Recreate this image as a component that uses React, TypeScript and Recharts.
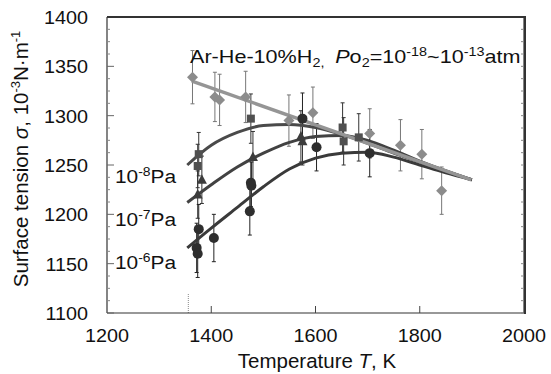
import React from 'react';
import { ComposedChart, XAxis, YAxis, Scatter, Line, ErrorBar, ReferenceLine, CartesianGrid } from 'recharts';

const FONT = '"Liberation Sans", Arial, Helvetica, sans-serif';

// Ar-He-10%H2 (gray diamonds)
const diamondT = [1364, 1407, 1416, 1466, 1549, 1595, 1704, 1763, 1804, 1842];
const diamondS = [1339, 1319, 1316, 1319, 1295, 1303, 1282, 1270, 1261, 1224];
const diamondE = [27, 25, 26, 26, 26, 26, 25, 26, 25, 24];

// 10^-8 Pa (squares)
const squareT = [1374, 1376, 1476, 1652, 1654, 1683];
const squareS = [1249, 1261, 1297, 1288, 1274, 1278];
const squareE = [22, 22, 25, 25, 24, 24];

// 10^-7 Pa (triangles)
const triT = [1374, 1382, 1480, 1572, 1575];
const triS = [1220, 1235, 1258, 1279, 1274];
const triE = [24, 24, 26, 26, 24];

// 10^-6 Pa (circles)
const circT = [1372, 1374, 1376, 1405, 1474, 1476, 1477, 1575, 1602, 1704];
const circS = [1166, 1160, 1185, 1176, 1203, 1232, 1229, 1297, 1268, 1262];
const circE = [25, 24, 25, 24, 24, 24, 24, 26, 24, 24];

// fitted curves
const fitGrayT = [1363, 1899];
const fitGrayS = [1335, 1235];
const fit8T = [1354, 1400, 1450, 1500, 1550, 1600, 1650, 1700, 1750, 1800, 1850, 1900];
const fit8S = [1250, 1270, 1283, 1290, 1291, 1288, 1281, 1272, 1262, 1253, 1244, 1235];
const fit7T = [1354, 1400, 1450, 1500, 1550, 1600, 1650, 1700, 1750, 1800, 1850, 1900];
const fit7S = [1212, 1230, 1248, 1262, 1273, 1279, 1280, 1275, 1265, 1254, 1244, 1235];
const fit6T = [1354, 1400, 1450, 1500, 1550, 1600, 1650, 1700, 1750, 1800, 1850, 1900];
const fit6S = [1166, 1186, 1207, 1228, 1246, 1257, 1262, 1263, 1258, 1250, 1242, 1235];

const xMin = 1200;
const xMax = 2000;
const yMin = 1100;
const yMax = 1400;
const xTicks = [1200, 1400, 1600, 1800, 2000];
const yTicks = Array.from({ length: 25 }, (_, i) => 1100 + i * 12.5);
const meltingT = 1356;

const pts = (t: number[], s: number[], e?: number[]) =>
  t.map((T, i) => ({ T, s: s[i], e: e ? e[i] : 0 }));

const diamonds = pts(diamondT, diamondS, diamondE);
const squares = pts(squareT, squareS, squareE);
const tris = pts(triT, triS, triE);
const circs = pts(circT, circS, circE);
const fitGray = pts(fitGrayT, fitGrayS);
const fit8 = pts(fit8T, fit8S);
const fit7 = pts(fit7T, fit7S);
const fit6 = pts(fit6T, fit6S);

// layout
const W = 551;
const H = 374;
const M_TOP = 17;
const M_RIGHT = 27;
const Y_AXIS_W = 107;
const X_AXIS_H = 61;
const PLOT_W = W - Y_AXIS_W - M_RIGHT;
const PLOT_H = H - M_TOP - X_AXIS_H;

const AXIS = '#333';
const LEFT_MARGIN = 19;
const BOTTOM_MARGIN = 16;

const LeftTick = (props: any) => {
  const { x, y, payload } = props;
  const v = payload.value;
  const major = Math.abs(v % 50) < 1e-6;
  const ax = x + LEFT_MARGIN;
  return (
    <g>
      <path d={`M${ax},${y}H${ax + (major ? 7 : 3)}`} stroke={major ? '#666' : '#888'} strokeWidth={1} fill="none" />
      <path d={`M${ax + PLOT_W - 3},${y}H${ax + PLOT_W}`} stroke="#888" strokeWidth={1} fill="none" />
      {major && (
        <text
          transform={`translate(${x},${y + 7}) scale(1.1,1)`}
          textAnchor="end"
          fontSize={18}
          fontFamily={FONT}
          fill="#111"
        >
          {v}
        </text>
      )}
    </g>
  );
};

const BottomTick = (props: any) => {
  const { x, y, payload, index } = props;
  const ay = y - BOTTOM_MARGIN;
  const inner = index > 0 && index < xTicks.length - 1;
  return (
    <g>
      {inner && <path d={`M${x},${ay}V${ay - 7}`} stroke="#444" strokeWidth={1} fill="none" />}
      <text
        transform={`translate(${x},${y + 13}) scale(1.1,1)`}
        textAnchor="middle"
        fontSize={18}
        fontFamily={FONT}
        fill="#111"
      >
        {payload.value}
      </text>
    </g>
  );
};

const Diamond = (p: any) => {
  const { cx, cy } = p;
  const r = 5.5;
  return <path d={`M${cx},${cy - r}L${cx + r},${cy}L${cx},${cy + r}L${cx - r},${cy}Z`} fill="#8c8c8c" />;
};
const Square = (p: any) => {
  const { cx, cy } = p;
  return <rect x={cx - 4} y={cy - 4} width={8} height={8} fill="#505050" />;
};
const Triangle = (p: any) => {
  const { cx, cy } = p;
  return <path d={`M${cx},${cy - 5.5}L${cx + 5},${cy + 4}L${cx - 5},${cy + 4}Z`} fill="#3c3c3c" />;
};
const Circle = (p: any) => {
  const { cx, cy } = p;
  return <circle cx={cx} cy={cy} r={5} fill="#2e2e2e" />;
};

const PaLabel = ({ y, exp }: { y: number; exp: string }) => (
  <text transform={`translate(115,${y}) scale(1.16,1)`} fontSize={18}>
    10<tspan dy={-7} fontSize={12}>{exp}</tspan>
    <tspan dy={7}>Pa</tspan>
  </text>
);

const Overlay = () => (
  <svg width={W} height={H} style={{ position: 'absolute', left: 0, top: 0, pointerEvents: 'none' }}>
    <g fontFamily={FONT} fill="#111">
      <text transform="translate(190,63) scale(1.2,1)" fontSize={18}>
        Ar-He-10%H
        <tspan dy={4} fontSize={12}>2,</tspan>
        <tspan dy={-4} dx={9} fontStyle="italic">P</tspan>
        <tspan>o</tspan>
        <tspan dy={4} fontSize={12}>2</tspan>
        <tspan dy={-4}>=10</tspan>
        <tspan dy={-7} fontSize={12}>-18</tspan>
        <tspan dy={7}>~10</tspan>
        <tspan dy={-7} fontSize={12}>-13</tspan>
        <tspan dy={7}>atm</tspan>
      </text>
      <PaLabel y={183} exp="-8" />
      <PaLabel y={226} exp="-7" />
      <PaLabel y={269} exp="-6" />
      <text x={317} y={368} fontSize={20.5} textAnchor="middle">
        Temperature <tspan fontStyle="italic">T</tspan>, K
      </text>
      <text transform="rotate(-90)" x={-159} y={28} fontSize={20.5} textAnchor="middle">
        Surface tension <tspan fontStyle="italic">σ</tspan>, 10
        <tspan dy={-8} fontSize={13}>-3</tspan>
        <tspan dy={8}>N·m</tspan>
        <tspan dy={-8} fontSize={13}>-1</tspan>
      </text>
    </g>
  </svg>
);

export default function App() {
  return (
    <div style={{ position: 'absolute', left: 0, top: 0, width: W, height: H, background: '#fff' }}>
      <ComposedChart width={W} height={H} margin={{ top: M_TOP, right: M_RIGHT, bottom: 0, left: 0 }}>
        <CartesianGrid
          horizontalValues={[yMax]}
          verticalValues={[xMax]}
          stroke={AXIS}
          strokeWidth={1.2}
          strokeDasharray=""
        />
        <XAxis
          dataKey="T"
          type="number"
          domain={[xMin, xMax]}
          ticks={xTicks}
          interval={0}
          height={X_AXIS_H}
          tickSize={0}
          tickMargin={BOTTOM_MARGIN}
          tickLine={false}
          tick={<BottomTick />}
          axisLine={{ stroke: AXIS, strokeWidth: 1.2 }}
          allowDataOverflow
        />
        <YAxis
          type="number"
          domain={[yMin, yMax]}
          ticks={yTicks}
          interval={0}
          width={Y_AXIS_W}
          tickSize={0}
          tickMargin={LEFT_MARGIN}
          tickLine={false}
          tick={<LeftTick />}
          axisLine={{ stroke: AXIS, strokeWidth: 1.2 }}
          allowDataOverflow
        />
        <ReferenceLine
          segment={[{ x: meltingT, y: 1100 }, { x: meltingT, y: 1120 }]}
          stroke="#888"
          strokeDasharray="1 1"
        />
        <Scatter data={diamonds} dataKey="s" shape={<Diamond />} isAnimationActive={false}>
          <ErrorBar dataKey="e" direction="y" width={2} stroke="#777" strokeWidth={1} />
        </Scatter>
        <Scatter data={squares} dataKey="s" shape={<Square />} isAnimationActive={false}>
          <ErrorBar dataKey="e" direction="y" width={2} stroke="#333" strokeWidth={1} />
        </Scatter>
        <Scatter data={tris} dataKey="s" shape={<Triangle />} isAnimationActive={false}>
          <ErrorBar dataKey="e" direction="y" width={2} stroke="#333" strokeWidth={1} />
        </Scatter>
        <Scatter data={circs} dataKey="s" shape={<Circle />} isAnimationActive={false}>
          <ErrorBar dataKey="e" direction="y" width={2} stroke="#222" strokeWidth={1} />
        </Scatter>
        <Line data={fit6} dataKey="s" type="monotone" stroke="#3a3a3a" strokeWidth={3} dot={false} isAnimationActive={false} />
        <Line data={fit7} dataKey="s" type="monotone" stroke="#424242" strokeWidth={3} dot={false} isAnimationActive={false} />
        <Line data={fit8} dataKey="s" type="monotone" stroke="#4a4a4a" strokeWidth={3} dot={false} isAnimationActive={false} />
        <Line data={fitGray} dataKey="s" type="linear" stroke="#959595" strokeWidth={3.5} dot={false} isAnimationActive={false} />
      </ComposedChart>
      {/* plot frame: top and right edges */}
      <div
        style={{
          position: 'absolute',
          left: Y_AXIS_W,
          top: M_TOP - 1,
          width: PLOT_W,
          height: PLOT_H,
          borderTop: `2px solid ${AXIS}`,
          borderRight: `2px solid ${AXIS}`,
          boxSizing: 'content-box',
          pointerEvents: 'none',
        }}
      />
      <Overlay />
    </div>
  );
}
